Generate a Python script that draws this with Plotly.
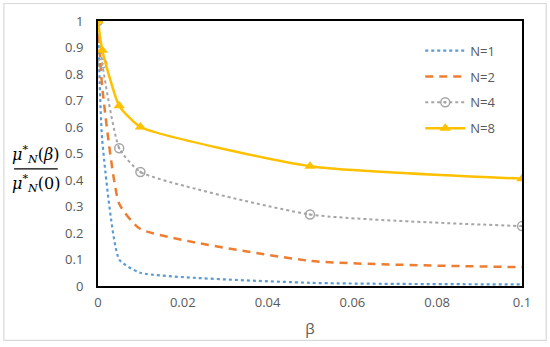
import plotly.graph_objects as go

beta = [0, 0.001, 0.005, 0.01, 0.05, 0.1]
n1 = [1, 0.55, 0.10, 0.05, 0.012, 0.006]
n2 = [1, 0.75, 0.31, 0.215, 0.095, 0.071]
n4 = [1, 0.84, 0.52, 0.43, 0.27, 0.226]
n8 = [1, 0.89, 0.68, 0.60, 0.452, 0.405]
names = ["N=1", "N=2", "N=4", "N=8"]
xticks = [0, 0.02, 0.04, 0.06, 0.08, 0.1]
xtick_text = ["0", "0.02", "0.04", "0.06", "0.08", "0.1"]
yticks = [0, 0.1, 0.2, 0.3, 0.4, 0.5, 0.6, 0.7, 0.8, 0.9, 1]
ytick_text = ["0", "0.1", "0.2", "0.3", "0.4", "0.5", "0.6", "0.7", "0.8", "0.9", "1"]

fig = go.Figure()
fig.add_trace(go.Scatter(x=beta, y=n1, name=names[0], mode="lines", legendgroup="a",
                         line=dict(color="#5B9BD5", width=2.2, dash="dot", shape="spline", smoothing=0.5)))
fig.add_trace(go.Scatter(x=beta, y=n2, name=names[1], mode="lines", legendgroup="b",
                         line=dict(color="#ED7D31", width=2.5, dash="8px,6px", shape="spline", smoothing=0.5)))
fig.add_trace(go.Scatter(x=beta, y=n4, name=names[2], mode="lines+markers", legendgroup="c",
                         line=dict(color="#A5A5A5", width=2, dash="dot", shape="spline", smoothing=0.5),
                         marker=dict(symbol="circle-open-dot", size=9, color="#A5A5A5", line=dict(width=1.5))))
fig.add_trace(go.Scatter(x=beta, y=n8, name=names[3], mode="lines+markers", legendgroup="d",
                         line=dict(color="#FFC000", width=2.5, shape="spline", smoothing=0.5),
                         marker=dict(symbol="triangle-up", size=10, color="#FFC000")))

fig.update_layout(
    width=550, height=347,
    margin=dict(l=98, r=28, t=21, b=59),
    paper_bgcolor="white", plot_bgcolor="white",
    font=dict(family="Open Sans, Liberation Sans, sans-serif", color="#595959", size=13),
    showlegend=True,
    legend=dict(x=0.76, y=0.945, xanchor="left", yanchor="top", bgcolor="rgba(0,0,0,0)",
                font=dict(size=13, color="#595959"), itemwidth=40, tracegroupgap=6),
    xaxis=dict(range=[0, 0.1], tickvals=xticks, ticktext=xtick_text, showgrid=False, zeroline=False,
               showline=True, linecolor="black", linewidth=2, mirror=True, ticks="",
               ticklabelstandoff=3,
               title=dict(text="β", font=dict(size=15, color="#595959"), standoff=14)),
    yaxis=dict(range=[0, 1], tickvals=yticks, ticktext=ytick_text, showgrid=False, zeroline=False,
               showline=True, linecolor="black", linewidth=2, mirror=True, ticks="",
               ticklabelstandoff=10),
    shapes=[
        dict(type="rect", xref="paper", yref="paper", x0=-0.222, x1=1.057, y0=-0.205, y1=1.066,
             line=dict(color="#D9D9D9", width=1.2), fillcolor="rgba(0,0,0,0)", layer="below"),
        dict(type="line", xref="paper", yref="paper", x0=-0.198, x1=-0.095, y0=0.442, y1=0.442,
             line=dict(color="black", width=1.3)),
    ],
    annotations=[
        dict(xref="paper", yref="paper", x=-0.147, y=0.446, xanchor="center", yanchor="bottom",
             showarrow=False, text="<i>μ</i><sup>*</sup><sub><i>N</i></sub>(<i>β</i>)",
             font=dict(family="DejaVu Serif, serif", size=16, color="black")),
        dict(xref="paper", yref="paper", x=-0.147, y=0.438, xanchor="center", yanchor="top",
             showarrow=False, text="<i>μ</i><sup>*</sup><sub><i>N</i></sub>(0)",
             font=dict(family="DejaVu Serif, serif", size=16, color="black")),
    ],
)

fig.write_html("out.html", config={"displayModeBar": False},
               post_script="document.body.style.margin='0';")
